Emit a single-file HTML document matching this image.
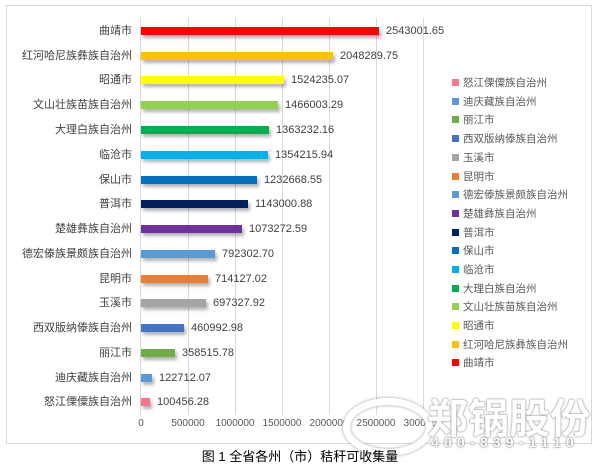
<!DOCTYPE html>
<html><head><meta charset="utf-8"><style>
body{margin:0;background:#fff;width:600px;height:467px;overflow:hidden;position:relative;font-family:"Liberation Sans","Microsoft YaHei","Noto Sans CJK SC",sans-serif;}
.frame{position:absolute;left:6px;top:5px;width:584px;height:437px;border:1px solid #d9d9d9;}
.g{position:absolute;top:18px;width:1px;height:397px;background:#d9d9d9;}
.lab{position:absolute;right:468px;font-size:11px;color:#404040;white-space:nowrap;line-height:14px;}
.bar{position:absolute;left:141px;height:8px;box-shadow:2px 3px 3px rgba(0,0,0,0.3);}
.val{position:absolute;font-size:11px;color:#404040;line-height:14px;}
.tick{position:absolute;top:418px;font-size:10px;color:#595959;transform:translateX(-50%);}
.leg{position:absolute;left:452px;font-size:10.5px;color:#595959;line-height:14px;white-space:nowrap;}
.leg i{display:inline-block;width:7px;height:7px;margin-right:4px;vertical-align:0px;}
.cap{position:absolute;top:446px;left:0;width:600px;text-align:center;font-size:13px;color:#000;}
.wm{position:absolute;left:427px;top:392px;font-size:41px;line-height:46px;font-weight:bold;color:#fff;text-shadow:0 0 2px #888,0 0 1px #888;letter-spacing:0px;font-family:"Noto Sans CJK SC",sans-serif;}
.wm2{position:absolute;left:431px;top:434px;font-size:14px;line-height:16px;font-weight:bold;color:#fff;text-shadow:0 0 2px #777,0 0 1px #777;letter-spacing:5.2px;}
.circ{position:absolute;left:343px;top:398px;width:76px;height:44px;border-radius:50%;border:7px solid #fff;box-shadow:0 0 3px #999, inset 0 0 3px #999;}
</style></head><body>
<div class="frame"></div>
<div class="g" style="left:188px"></div><div class="g" style="left:235px"></div><div class="g" style="left:282px"></div><div class="g" style="left:329px"></div><div class="g" style="left:376px"></div><div class="g" style="left:423px"></div>
<div class="g" style="left:140px;background:#d9d9d9"></div>

<div class="lab" style="top:24px">曲靖市</div><div class="bar" style="top:27px;width:238px;background:#ff0000"></div><div class="val" style="top:24px;left:386px">2543001.65</div>
<div class="lab" style="top:49px">红河哈尼族彝族自治州</div><div class="bar" style="top:52px;width:192px;background:#ffc000"></div><div class="val" style="top:49px;left:340px">2048289.75</div>
<div class="lab" style="top:73px">昭通市</div><div class="bar" style="top:76px;width:143px;background:#ffff00"></div><div class="val" style="top:73px;left:291px">1524235.07</div>
<div class="lab" style="top:98px">文山壮族苗族自治州</div><div class="bar" style="top:101px;width:137px;background:#92d050"></div><div class="val" style="top:98px;left:285px">1466003.29</div>
<div class="lab" style="top:123px">大理白族自治州</div><div class="bar" style="top:126px;width:128px;background:#00b050"></div><div class="val" style="top:123px;left:276px">1363232.16</div>
<div class="lab" style="top:148px">临沧市</div><div class="bar" style="top:151px;width:127px;background:#00b0f0"></div><div class="val" style="top:148px;left:275px">1354215.94</div>
<div class="lab" style="top:173px">保山市</div><div class="bar" style="top:176px;width:116px;background:#0070c0"></div><div class="val" style="top:173px;left:264px">1232668.55</div>
<div class="lab" style="top:197px">普洱市</div><div class="bar" style="top:200px;width:107px;background:#002060"></div><div class="val" style="top:197px;left:255px">1143000.88</div>
<div class="lab" style="top:222px">楚雄彝族自治州</div><div class="bar" style="top:225px;width:101px;background:#7030a0"></div><div class="val" style="top:222px;left:249px">1073272.59</div>
<div class="lab" style="top:247px">德宏傣族景颇族自治州</div><div class="bar" style="top:250px;width:74px;background:#5b9bd5"></div><div class="val" style="top:247px;left:222px">792302.70</div>
<div class="lab" style="top:272px">昆明市</div><div class="bar" style="top:275px;width:67px;background:#ed7d31"></div><div class="val" style="top:272px;left:215px">714127.02</div>
<div class="lab" style="top:296px">玉溪市</div><div class="bar" style="top:299px;width:65px;background:#a5a5a5"></div><div class="val" style="top:296px;left:213px">697327.92</div>
<div class="lab" style="top:321px">西双版纳傣族自治州</div><div class="bar" style="top:324px;width:43px;background:#4472c4"></div><div class="val" style="top:321px;left:191px">460992.98</div>
<div class="lab" style="top:346px">丽江市</div><div class="bar" style="top:349px;width:34px;background:#70ad47"></div><div class="val" style="top:346px;left:182px">358515.78</div>
<div class="lab" style="top:371px">迪庆藏族自治州</div><div class="bar" style="top:374px;width:11px;background:#5b9bd5"></div><div class="val" style="top:371px;left:159px">122712.07</div>
<div class="lab" style="top:395px">怒江傈僳族自治州</div><div class="bar" style="top:398px;width:9px;background:#f4778b"></div><div class="val" style="top:395px;left:157px">100456.28</div>

<div class="tick" style="left:141px">0</div><div class="tick" style="left:188px">500000</div><div class="tick" style="left:235px">1000000</div><div class="tick" style="left:282px">1500000</div><div class="tick" style="left:329px">2000000</div><div class="tick" style="left:376px">2500000</div><div class="tick" style="left:423px">3000000</div>

<div class="leg" style="top:76px"><i style="background:#f4778b"></i>怒江傈僳族自治州</div>
<div class="leg" style="top:95px"><i style="background:#5b9bd5"></i>迪庆藏族自治州</div>
<div class="leg" style="top:113px"><i style="background:#70ad47"></i>丽江市</div>
<div class="leg" style="top:132px"><i style="background:#4472c4"></i>西双版纳傣族自治州</div>
<div class="leg" style="top:151px"><i style="background:#a5a5a5"></i>玉溪市</div>
<div class="leg" style="top:170px"><i style="background:#ed7d31"></i>昆明市</div>
<div class="leg" style="top:188px"><i style="background:#5b9bd5"></i>德宏傣族景颇族自治州</div>
<div class="leg" style="top:207px"><i style="background:#7030a0"></i>楚雄彝族自治州</div>
<div class="leg" style="top:226px"><i style="background:#002060"></i>普洱市</div>
<div class="leg" style="top:244px"><i style="background:#0070c0"></i>保山市</div>
<div class="leg" style="top:263px"><i style="background:#00b0f0"></i>临沧市</div>
<div class="leg" style="top:282px"><i style="background:#00b050"></i>大理白族自治州</div>
<div class="leg" style="top:300px"><i style="background:#92d050"></i>文山壮族苗族自治州</div>
<div class="leg" style="top:319px"><i style="background:#ffff00"></i>昭通市</div>
<div class="leg" style="top:338px"><i style="background:#ffc000"></i>红河哈尼族彝族自治州</div>
<div class="leg" style="top:356px"><i style="background:#ff0000"></i>曲靖市</div>

<div class="circ"></div>
<div class="wm">郑锅股份</div>
<div class="wm2">400-839-1110</div>
<div class="cap">图 1 全省各州（市）秸秆可收集量</div>
</body></html>
